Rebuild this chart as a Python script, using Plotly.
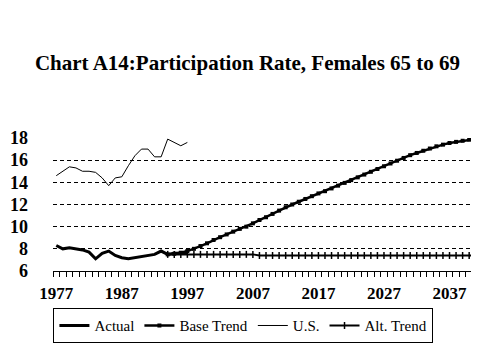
import plotly.graph_objects as go

actual_years = list(range(1977, 1998))
actual = [8.3, 8.0, 8.1, 8.0, 7.9, 7.7, 7.1, 7.6, 7.8, 7.4, 7.2, 7.1, 7.2, 7.3,
          7.4, 7.5, 7.8, 7.5, 7.6, 7.6, 7.6]

us = [14.6, 15.0, 15.4, 15.3, 15.0, 15.0, 14.9, 14.4, 13.7, 14.4, 14.5, 15.5,
      16.4, 17.0, 17.0, 16.3, 16.3, 17.9, 17.6, 17.3, 17.6]

trend_years = list(range(1994, 2042))
base_trend = [7.5, 7.55, 7.65, 7.8, 8.0, 8.25, 8.5, 8.8, 9.05, 9.3, 9.55, 9.8,
              10.0, 10.3, 10.6, 10.85, 11.15, 11.45, 11.75, 12.0, 12.25, 12.5,
              12.75, 13.0, 13.2, 13.45, 13.7, 13.95, 14.2, 14.45, 14.7, 14.95,
              15.2, 15.45, 15.7, 15.95, 16.2, 16.45, 16.65, 16.85, 17.05, 17.25,
              17.4, 17.55, 17.65, 17.75, 17.85, 17.9]
alt_trend = [7.5] * 14 + [7.4] * 34

tick_labels = [1977, 1987, 1997, 2007, 2017, 2027, 2037]
y_ticks = [6, 8, 10, 12, 14, 16, 18]

FONT = '"Liberation Serif", "Times New Roman", Times, serif'

fig = go.Figure()
fig.add_trace(go.Scatter(x=actual_years, y=actual, name="Actual", mode="lines",
                         line=dict(color="black", width=3)))
fig.add_trace(go.Scatter(x=trend_years, y=base_trend, name="Base Trend",
                         mode="lines+markers",
                         line=dict(color="black", width=2.5),
                         marker=dict(symbol="square", size=4, color="black")))
fig.add_trace(go.Scatter(x=actual_years, y=us, name="U.S.", mode="lines",
                         line=dict(color="black", width=1)))
fig.add_trace(go.Scatter(x=trend_years, y=alt_trend, name="Alt. Trend",
                         mode="lines+markers",
                         line=dict(color="black", width=2),
                         marker=dict(symbol="line-ns-open", size=5,
                                     color="black", line=dict(width=1.5, color="black"))))

fig.update_layout(
    width=479, height=359,
    margin=dict(l=45, r=8, t=130, b=96),
    paper_bgcolor="white", plot_bgcolor="white",
    font=dict(family=FONT, color="black"),
    title=dict(text="<b>Chart A14:Participation Rate, Females 65 to 69</b>",
               x=0.5, xanchor="center", y=1 - 55 / 359, yanchor="middle",
               font=dict(family=FONT, size=21, color="black")),
    showlegend=True,
    legend=dict(orientation="h", x=0.447, xanchor="center", y=-0.28, yanchor="top",
                bordercolor="black", borderwidth=1, bgcolor="white",
                font=dict(family=FONT, size=15, color="black"),
                itemwidth=30, tracegroupgap=0),
)
fig.update_xaxes(
    range=[1976.5, 2041.5], tickmode="array", tickvals=tick_labels,
    ticktext=[str(v) for v in tick_labels], ticks="",
    showgrid=False, zeroline=False, showline=True, linecolor="black", linewidth=1,
    tickfont=dict(family=FONT, size=17, color="black", weight="bold"),
    ticklabelstandoff=7, automargin=False,
    minor=dict(ticks="outside", tick0=1976.5, dtick=1, ticklen=5,
               tickcolor="black", tickwidth=1, showgrid=False),
)
fig.update_yaxes(
    range=[6, 18], tickmode="array", tickvals=y_ticks, ticks="",
    showgrid=True, gridcolor="black", gridwidth=1, griddash="4px,3px",
    zeroline=False, showline=False, automargin=False,
    tickfont=dict(family=FONT, size=18, color="black", weight="bold"),
    ticklabelstandoff=24,
)

fig.write_html("out.html")
